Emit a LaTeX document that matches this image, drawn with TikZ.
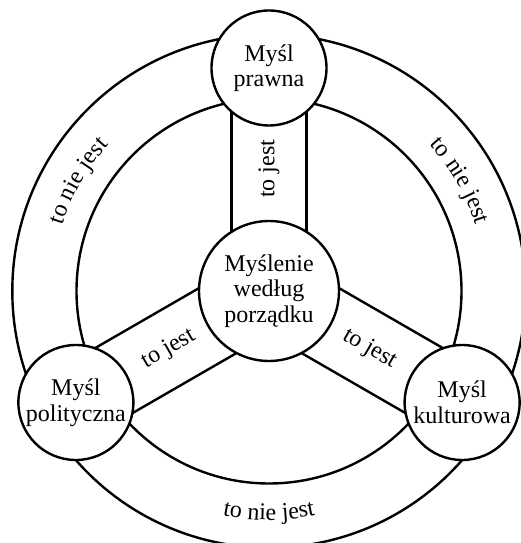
\documentclass[tikz,border=0pt]{standalone}
\usepackage{fontspec}
\setmainfont{Liberation Serif}
\usetikzlibrary{calc,backgrounds,decorations.text}
\newcommand\dgfont{\fontsize{24}{25.5}\selectfont}
\begin{document}
\begin{tikzpicture}[x=1pt,y=1pt,
  lw/.style={line width=2.4pt},
  sat/.style={circle,draw,lw,fill=white,minimum size=115pt,inner sep=0pt,align=center,font=\dgfont},
  hub/.style={circle,draw,lw,fill=white,minimum size=140pt,inner sep=0pt,align=center,font=\dgfont},
  band/.style={lw},
  ring/.style={lw},
  yes/.style={font=\dgfont,inner sep=0pt},
  arctext/.style={decorate,decoration={text along path,text align=center,text={|\dgfont|#1}}}]
\useasboundingbox (0,0) rectangle (521,543);
\node[hub] (c) at (269,252) {Myślenie\\według\\porządku};
\node[sat] (t) at ($(c.center)+(90:223pt)$) {Myśl\\prawna};
\node[sat] (l) at ($(c.center)+(210:223pt)$) {Myśl\\polityczna};
\node[sat] (r) at ($(c.center)+(330:223pt)$) {Myśl\\kulturowa};
\begin{pgfonlayer}{background}
\draw[ring] (c.center) circle[radius=192.5pt];
\draw[ring] (c.center) circle[radius=256.7pt];
\foreach \s in {t,l,r} {
  \draw[band] ($(c.center)!37.5pt!90:(\s.center)$) -- ($(\s.center)!37.5pt!-90:(c.center)$);
  \draw[band] ($(c.center)!37.5pt!-90:(\s.center)$) -- ($(\s.center)!37.5pt!90:(c.center)$);
}
\end{pgfonlayer}
\node[yes,rotate=90] (y1) at ($(c.center)+(90:122pt)$) {to jest};
\node[yes,rotate=30] (y2) at ($(c.center)+(210:116pt)$) {to jest};
\node[yes,rotate=-30] (y3) at ($(c.center)+(330:116pt)$) {to jest};
\path[arctext={to nie jest}] ($(c.center)+(190:217pt)$) arc[start angle=190,end angle=110,radius=217pt];
\path[arctext={to nie jest}] ($(c.center)+(70:217pt)$) arc[start angle=70,end angle=-10,radius=217pt];
\path[arctext={to nie jest}] ($(c.center)+(240:229pt)$) arc[start angle=240,end angle=300,radius=229pt];
\end{tikzpicture}
\end{document}
